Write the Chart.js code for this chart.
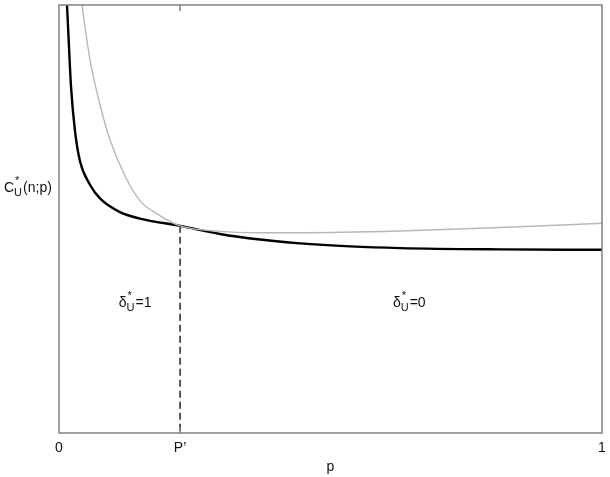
<!DOCTYPE html>
<html>
<head>
<meta charset="utf-8">
<script src="https://cdn.jsdelivr.net/npm/chart.js@4"></script>
<style>
  html, body { margin: 0; padding: 0; background: #fff; }
  #wrap { width: 610px; height: 477px; position: relative; }
</style>
</head>
<body>
<div id="wrap"><canvas id="costChart"></canvas></div>
<script>
// switching point P'
const pStar = 0.223;
const crossCost = 48.4;

// black curve: C*_U(n;p) for the chosen plan
const blackP = [0.0092, 0.0147, 0.0221, 0.0295, 0.0387, 0.0571, 0.0755, 0.1123, 0.149, 0.223, 0.2965, 0.370, 0.444, 0.536, 0.628, 0.812, 1.0];
const blackCost = [112.0, 100, 81.0, 70.5, 63.5, 58.0, 54.8, 51.6, 50.1, 48.4, 46.5, 45.2, 44.3, 43.6, 43.2, 42.9, 42.8];

// grey curve: the other plan
const greyP = [0.0368, 0.0424, 0.0571, 0.0755, 0.0939, 0.1215, 0.149, 0.186, 0.223, 0.2965, 0.370, 0.444, 0.628, 0.812, 1.0];
const greyCost = [106.0, 100, 87.2, 76.7, 68.5, 60.1, 54.3, 50.8, 48.4, 47.1, 46.8, 46.8, 47.2, 48.0, 49.0];

// x tick labels
const xTickValues = [0, pStar, 1];
const xTickLabels = ['0', 'P\u2019', '1'];

const FONT = '"Liberation Sans", Arial, sans-serif';

function toPoints(xs, ys) {
    return xs.map((x, i) => ({ x: x, y: ys[i] }));
}

// draws text like "C*U(n;p)": base, superscript star over subscript letter, rest
function drawStarSub(ctx, x, y, base, sub, rest, size) {
    ctx.font = size + 'px ' + FONT;
    ctx.fillText(base, x, y);
    let w = ctx.measureText(base).width;
    const small = Math.round(size * 0.8);
    ctx.font = small + 'px ' + FONT;
    ctx.fillText('*', x + w + 1, y - size * 0.55);
    ctx.fillText(sub, x + w, y + size * 0.32);
    const sw = ctx.measureText(sub).width;
    ctx.font = size + 'px ' + FONT;
    ctx.fillText(rest, x + w + sw + 1, y);
}

const framePlugin = {
    id: 'frame',
    afterDatasetsDraw(chart) {
        const { ctx, chartArea: a, scales } = chart;
        ctx.save();
        // box around plot
        ctx.strokeStyle = '#808080';
        ctx.lineWidth = 1.5;
        ctx.strokeRect(a.left, a.top, a.right - a.left, a.bottom - a.top);
        // inside tick marks at P'
        const px = scales.x.getPixelForValue(pStar);
        ctx.beginPath();
        ctx.moveTo(px, a.bottom); ctx.lineTo(px, a.bottom - 6);
        ctx.moveTo(px, a.top); ctx.lineTo(px, a.top + 6);
        ctx.stroke();

        ctx.fillStyle = '#111';
        ctx.textBaseline = 'alphabetic';
        ctx.textAlign = 'left';
        // y axis label
        drawStarSub(ctx, 4, 192, 'C', 'U', '(n;p)', 14);
        // region labels
        const y1 = scales.y.getPixelForValue(29.5);
        drawStarSub(ctx, scales.x.getPixelForValue(0.11), y1, '\u03b4', 'U', '=1', 14);
        drawStarSub(ctx, scales.x.getPixelForValue(0.615), y1, '\u03b4', 'U', '=0', 14);
        ctx.restore();
    }
};

new Chart(document.getElementById('costChart'), {
    type: 'line',
    data: {
        datasets: [
            {
                data: toPoints(greyP, greyCost),
                borderColor: '#b8b8b8',
                borderWidth: 1.4,
                pointRadius: 0,
                cubicInterpolationMode: 'monotone'
            },
            {
                data: toPoints(blackP, blackCost),
                borderColor: '#000',
                borderWidth: 2.4,
                pointRadius: 0,
                cubicInterpolationMode: 'monotone'
            },
            {
                data: [{ x: pStar, y: crossCost }, { x: pStar, y: 0 }],
                borderColor: '#333',
                borderWidth: 1.6,
                borderDash: [7, 4],
                pointRadius: 0
            }
        ]
    },
    options: {
        responsive: true,
        maintainAspectRatio: false,
        animation: false,
        layout: { padding: { left: 59, right: 8, top: 5, bottom: 3 } },
        plugins: {
            legend: { display: false },
            tooltip: { enabled: false }
        },
        scales: {
            x: {
                type: 'linear',
                min: 0,
                max: 1,
                afterBuildTicks(scale) {
                    scale.ticks = xTickValues.map(v => ({ value: v }));
                },
                // the end labels should not push the plot edges inward
                afterFit(scale) {
                    scale.paddingLeft = 0;
                    scale.paddingRight = 0;
                },
                ticks: {
                    autoSkip: false,
                    maxRotation: 0,
                    padding: 8,
                    color: '#111',
                    font: { family: FONT, size: 14, lineHeight: 1.0 },
                    callback(value) {
                        const i = xTickValues.indexOf(value);
                        return i >= 0 ? xTickLabels[i] : '';
                    }
                },
                grid: { display: false, drawTicks: false, tickLength: 0 },
                border: { display: false },
                title: {
                    display: true,
                    text: 'p',
                    color: '#111',
                    font: { family: FONT, size: 14, lineHeight: 1.0 },
                    padding: { top: -3, bottom: 0 }
                }
            },
            y: {
                display: false,
                min: 0,
                max: 100
            }
        }
    },
    plugins: [framePlugin]
});
</script>
</body>
</html>
